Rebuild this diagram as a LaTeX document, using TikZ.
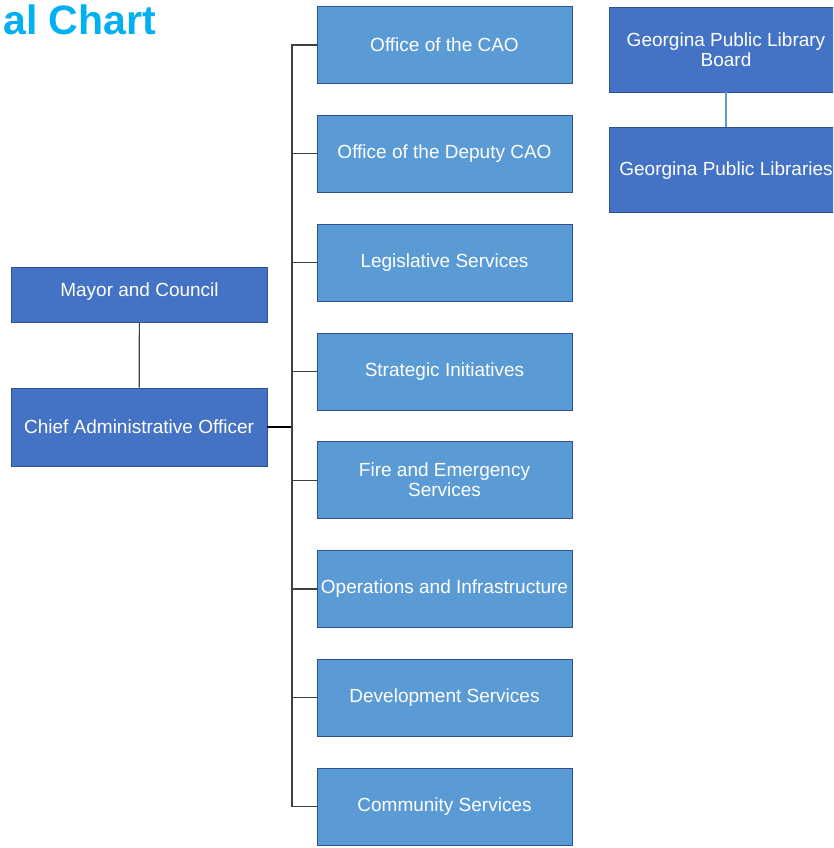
\documentclass[tikz,border=0pt]{standalone}
\usepackage{fontspec}
\setmainfont{Liberation Sans}
\usetikzlibrary{positioning}
\definecolor{darkbox}{HTML}{4472C4}
\definecolor{lightbox}{HTML}{5B9BD5}
\definecolor{boxline}{HTML}{2F528F}
\definecolor{titleblue}{HTML}{00B0F0}
\begin{document}
\begin{tikzpicture}[x=1pt,y=-1pt,
    every node/.style={draw=boxline,line width=0.8pt,text=white,align=center,inner sep=0pt,font=\fontsize{19}{20}\selectfont},
    dept/.style={fill=lightbox,minimum width=255pt,minimum height=77pt},
    head/.style={fill=darkbox,minimum width=256pt},
    lib/.style={fill=darkbox,minimum width=234pt,minimum height=85pt},
    link/.style={draw=black!75,line width=1.2pt}]
    \useasboundingbox (0,0) rectangle (833,848);
    \begin{scope}
        \clip (0,0) rectangle (833,848);
        \node[draw=none,text=titleblue,anchor=west,font=\fontsize{41}{42}\bfseries\selectfont] (title) at (3,20) {al Chart};
        % left column
        \node[head,minimum height=55pt] (mayor) at (139.5,294.5) {\raisebox{10pt}{Mayor and Council}};
        \node[head,minimum height=78pt] (chief) at (139,427) {Chief Administrative Officer};
        % departments
        \node[dept] (caoffice) at (444.5,45) {Office of the CAO};
        \node[dept,below=31pt of caoffice] (deputy) {Office of the Deputy CAO};
        \node[dept,below=31pt of deputy] (legis) {Legislative Services};
        \node[dept,below=31pt of legis] (strat) {Strategic Initiatives};
        \node[dept,below=31pt of strat] (fire) {Fire and Emergency\\Services};
        \node[dept,below=31pt of fire] (ops) {Operations and Infrastructure};
        \node[dept,below=31pt of ops] (devel) {Development Services};
        \node[dept,below=31pt of devel] (community) {Community Services};
        % library
        \node[lib] (board) at (726,49.5) {Georgina Public Library\\Board};
        \node[lib,below=35pt of board] (libraries) {Georgina Public Libraries};
    \end{scope}
    \coordinate (spine) at (292,427);
    \draw[link] (mayor) -- (chief);
    \draw[draw=black,line width=2pt] (chief.east) -- (spine);
    \foreach \d in {caoffice,deputy,legis,strat,fire,ops,devel,community}
        \draw[link] (\d.west) -| (spine);
    \draw[draw=lightbox,line width=1.2pt] (board) -- (libraries);
\end{tikzpicture}
\end{document}
